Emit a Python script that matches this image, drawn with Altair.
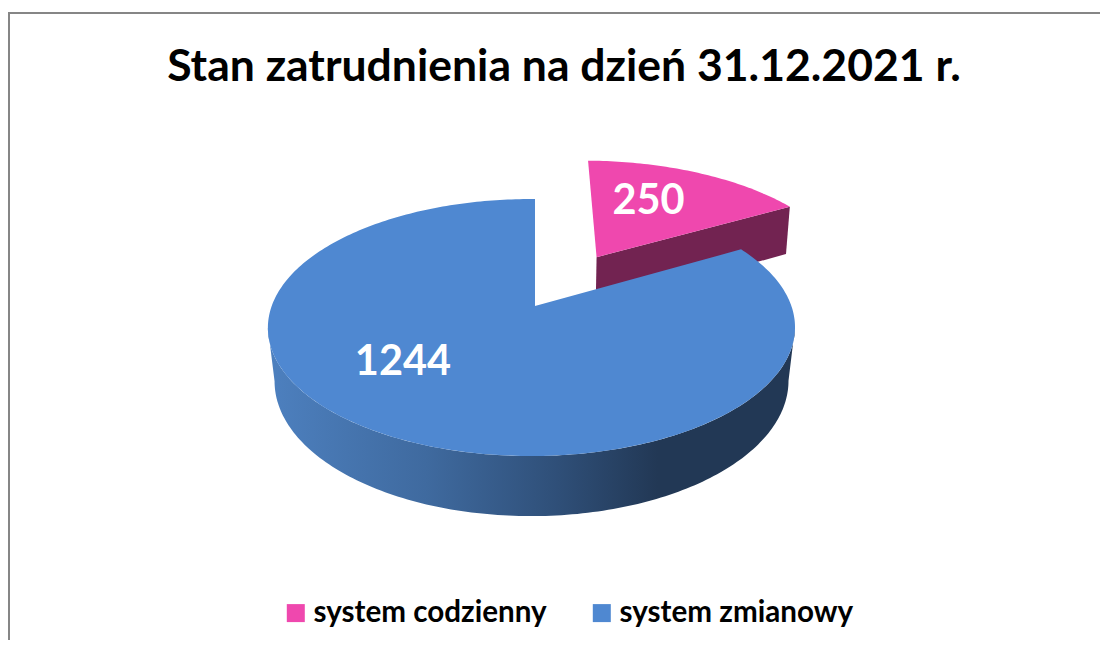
import math
import altair as alt
import pandas as pd

title_text = "Stan zatrudnienia na dzień 31.12.2021 r."
categories = ["system codzienny", "system zmianowy"]
values = [250, 1244]
top_colors = ["#ef48ae", "#4f88d1"]
pink_wall = "#722351"

W, H = 1092, 632
OX, OY = 8, 8  # page margin
# perspective camera of the 3D pie
X0, Y0, YB = 535, 306, 358.4
A, A_B, B, K, M = 124.9, 131.3, 259.8, 0.1673, 0.0133
EXPLODE_U, EXPLODE_V, PINK_R = 0.2545, 0.42, 1.03


def project(u, v, floor=0.0):
    d = 1 + K * v + M * u
    if floor:
        return X0 + B * floor * u / d, YB - A_B * v / d
    return X0 + B * u / d, Y0 - A * v / d


def pt(t, ou=0.0, ov=0.0, floor=0.0, r=1.0):
    return project(ou + r * math.sin(t), ov + r * math.cos(t), floor)


total = sum(values)
split = 2 * math.pi * values[0] / total


def sweep(a, b):
    n = max(2, int(abs(b - a) / math.radians(1)))
    return [a + (b - a) * i / n for i in range(n + 1)]


def frame(points, name, key):
    return pd.DataFrame(
        [{"px": p[0] - OX, "py": p[1] - OY, "i": i, "series": name, "key": key}
         for i, p in enumerate(points)]
    )


blue_top = [project(0, 0)] + [pt(t) for t in sweep(split, 2 * math.pi)]
blue_top.append(project(0, 0))
pink_top = [project(EXPLODE_U, EXPLODE_V)] + [
    pt(t, EXPLODE_U, EXPLODE_V, r=PINK_R) for t in sweep(0, split)
]
pink_top.append(project(EXPLODE_U, EXPLODE_V))

# visible front wall of the blue slice, between the ellipse's side tangents
front_ts = sweep(math.radians(99.6), math.radians(260.4))
blue_wall = [pt(t) for t in front_ts] + [pt(t, floor=0.975) for t in reversed(front_ts)]
blue_wall.append(blue_wall[0])

# inner cut wall of the pink slice plus its end
pa = project(EXPLODE_U, EXPLODE_V)
pb = pt(split, EXPLODE_U, EXPLODE_V, r=PINK_R)
pa2 = project(EXPLODE_U, EXPLODE_V, 0.985)
pb2 = pt(split, EXPLODE_U, EXPLODE_V, floor=0.985, r=PINK_R)
pink_side = [pa, pb, pb2, pa2, pa]

x_scale = alt.Scale(domain=[0, W], range=[0, W])
y_scale = alt.Scale(domain=[0, H], range=[0, H])
X = alt.X("px:Q", scale=x_scale, axis=None)
Y = alt.Y("py:Q", scale=y_scale, axis=None)

gradient = alt.Gradient(
    gradient="linear", x1=0, x2=1, y1=0, y2=0,
    stops=[
        alt.GradientStop(offset=0.0, color="#4d80bf"),
        alt.GradientStop(offset=0.3, color="#3f6a9f"),
        alt.GradientStop(offset=0.55, color="#2f4f78"),
        alt.GradientStop(offset=0.74, color="#223855"),
        alt.GradientStop(offset=1.0, color="#223855"),
    ],
)

wall_layer = (
    alt.Chart(frame(blue_wall, categories[1], "wall"))
    .mark_line(fill=gradient, stroke=None, interpolate="linear")
    .encode(x=X, y=Y, order="i:Q")
)
pink_wall_layer = (
    alt.Chart(frame(pink_side, categories[0], "pw"))
    .mark_line(fill=pink_wall, stroke=None, interpolate="linear")
    .encode(x=X, y=Y, order="i:Q")
)
faces = pd.concat([frame(pink_top, categories[0], "a"), frame(blue_top, categories[1], "b")])
color_scale = alt.Scale(domain=categories, range=top_colors)
face_layer = (
    alt.Chart(faces)
    .mark_line(stroke=None, interpolate="linear")
    .encode(
        x=X, y=Y, order="i:Q",
        detail="series:N",
        fill=alt.Fill(
            "series:N", scale=color_scale,
            legend=alt.Legend(
                title=None, orient="none", direction="horizontal",
                legendX=273, legendY=590, symbolType="square", symbolSize=324,
                symbolStrokeWidth=0, labelFont="Lato", labelFontWeight="bold",
                labelFontSize=29.6, labelColor="#000000", columnPadding=40,
                labelOffset=3, labelLimit=400,
            ),
        ),
    )
)

lab_x = [648.5 - OX, 403 - OX]
lab_y = [202 - OY, 363 - OY]
labels = pd.DataFrame({"px": lab_x, "py": lab_y, "t": [str(v) for v in values]})
label_layer = (
    alt.Chart(labels)
    .mark_text(font="Lato", fontWeight="bold", fontSize=41.5, color="#ffffff",
               align="center", baseline="middle")
    .encode(x=X, y=Y, text="t:N")
)

rule_top = alt.Chart(pd.DataFrame({"a": [0]})).mark_rule(color="#868686", strokeWidth=2).encode(
    x=alt.value(0), x2=alt.value(W), y=alt.value(5))
rule_left = alt.Chart(pd.DataFrame({"a": [0]})).mark_rule(color="#868686", strokeWidth=2).encode(
    x=alt.value(1), y=alt.value(5), y2=alt.value(H))

chart = (
    alt.layer(rule_top, rule_left, pink_wall_layer, wall_layer, face_layer, label_layer)
    .properties(
        width=W, height=H,
        padding=0,
        autosize=alt.AutoSizeParams(type="none"),
        title=alt.TitleParams(
            text=title_text, font="Lato", fontWeight="bold", fontSize=44.5,
            color="#000000", anchor="middle", orient="top", dy=86, dx=10,
        ),
    )
    .configure_view(stroke=None)
)
chart.save("out.html", embed_options={"renderer": "svg", "actions": False})
